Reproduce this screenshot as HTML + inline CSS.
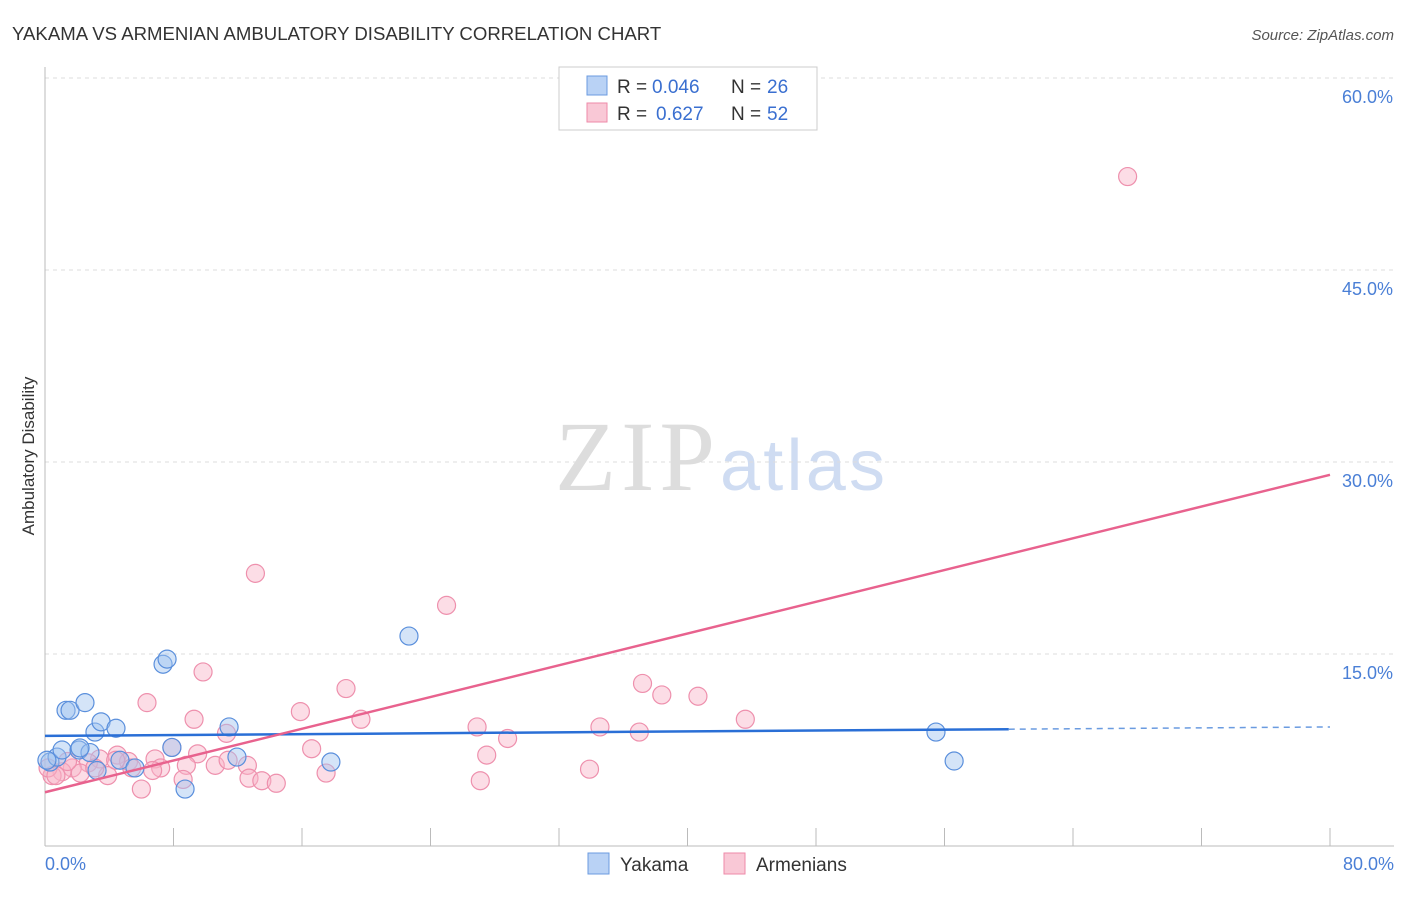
<!DOCTYPE html>
<html><head><meta charset="utf-8"><style>
body{margin:0;background:#fff;font-family:"Liberation Sans",sans-serif;}
</style></head><body>
<svg width="1406" height="892" xmlns="http://www.w3.org/2000/svg">
<text x="12" y="40" font-size="18.6" fill="#333">YAKAMA VS ARMENIAN AMBULATORY DISABILITY CORRELATION CHART</text>
<text x="1394" y="40" font-size="15" fill="#555" font-style="italic" text-anchor="end">Source: ZipAtlas.com</text>
<text x="34" y="456" font-size="17" fill="#333" text-anchor="middle" transform="rotate(-90 34 456)">Ambulatory Disability</text>
<text x="555" y="490" font-size="100" fill="#ddd" font-family="Liberation Serif" textLength="160">ZIP</text>
<text x="720" y="490" font-size="72" fill="#cfdcf2" textLength="165">atlas</text>
<g id="grid"></g><g id="axes"></g><g id="marks"></g>
<g>
<rect x="559" y="67" width="258" height="63" fill="#fff" stroke="#ccc"/>
<rect x="587" y="76" width="20" height="19" fill="#b9d2f5" stroke="#6b9be0"/>
<text y="93" font-size="19" fill="#333"><tspan x="617">R =</tspan><tspan x="652" fill="#3a6fd0">0.046</tspan><tspan x="731">N =</tspan><tspan x="767" fill="#3a6fd0">26</tspan></text>
<rect x="587" y="103" width="20" height="19" fill="#f9c8d6" stroke="#ee8aa8"/>
<text y="120" font-size="19" fill="#333"><tspan x="617">R =</tspan><tspan x="656" fill="#3a6fd0">0.627</tspan><tspan x="731">N =</tspan><tspan x="767" fill="#3a6fd0">52</tspan></text>
</g>
<g>
<rect x="588" y="853" width="21" height="21" fill="#b9d2f5" stroke="#6b9be0"/>
<text x="620" y="871" font-size="19" fill="#333">Yakama</text>
<rect x="724" y="853" width="21" height="21" fill="#f9c8d6" stroke="#ee8aa8"/>
<text x="756" y="871" font-size="19" fill="#333">Armenians</text>
</g>
</svg>
<script>
const yTicks=[15,30,45,60];
const yTickLabels=["15.0%","30.0%","45.0%","60.0%"];
const xTickLabels=["0.0%","80.0%"];
const yakamaX=[0.31,0.75,1.06,1.31,1.56,2.12,2.49,2.8,3.11,3.24,3.49,4.42,4.67,5.6,7.35,7.6,7.9,8.72,11.46,11.95,17.8,22.66,55.47,56.6,0.12,2.18];
const yakamaY=[6.56,6.95,7.5,10.6,10.6,7.5,11.2,7.3,8.9,5.9,9.7,9.2,6.7,6.1,14.2,14.6,7.7,4.45,9.3,6.95,6.56,16.4,8.9,6.64,6.7,7.66];
const armX=[67.4,13.1,25.0,9.84,6.35,18.74,15.9,9.28,19.67,37.2,38.4,40.65,43.6,34.55,37.0,26.9,28.8,27.5,16.6,11.3,9.5,6.85,4.5,3.4,2.7,1.7,1.06,0.44,0.19,2.2,3.9,5.2,7.2,8.8,10.6,12.6,12.7,13.5,14.4,17.5,8.6,6.0,27.1,33.9,0.68,3.1,5.4,7.9,11.4,1.4,4.4,6.7];
const armY=[52.3,21.3,18.8,13.6,11.2,12.3,10.5,9.9,9.9,12.7,11.8,11.7,9.9,9.3,8.9,9.3,8.4,7.1,7.6,8.8,7.2,6.8,7.1,6.8,6.5,6.1,5.8,5.5,6.1,5.7,5.5,6.6,6.1,6.3,6.3,6.3,5.3,5.1,4.9,5.7,5.2,4.45,5.1,6.0,5.5,6.1,6.1,7.7,6.7,6.6,6.7,5.9];
const yakamaTrend=[8.6,9.3];
const armTrend=[4.2,29.0];
const NS="http://www.w3.org/2000/svg";
const X=v=>45+v/80*1285, Y=v=>846-v/15*192;
function mk(t,a,p){const e=document.createElementNS(NS,t);for(const k in a)e.setAttribute(k,a[k]);p.appendChild(e);return e;}
const grid=document.getElementById('grid'),axes=document.getElementById('axes'),marks=document.getElementById('marks');
yTicks.forEach((t,i)=>{
 const l=mk('line',{x1:45,x2:1394,y1:Y(t),y2:Y(t),stroke:'#ddd','stroke-dasharray':'4,4'},grid);
 
 
 const tx=mk('text',{x:1393,y:Y(t)+25,'font-size':18,fill:'#4a7fd6','text-anchor':'end'},axes);
 tx.textContent=yTickLabels[i];
 
 
});
const ax=mk('line',{x1:45,x2:45,y1:67,y2:846,stroke:'#bbb'},axes);


const bx=mk('line',{x1:45,x2:1394,y1:846,y2:846,stroke:'#bbb'},axes);


for(let k=1;k<=10;k++){const t=mk('line',{x1:X(k*8),x2:X(k*8),y1:828,y2:846,stroke:'#bbb'},axes);
 
 }
[[0,'start',45],[80,'end',1394]].forEach((d,i)=>{const t=mk('text',{x:d[2],y:870,'font-size':18,fill:'#4a7fd6','text-anchor':d[1]},axes);t.textContent=xTickLabels[i];
 
 });
armX.forEach((x,i)=>{const c=mk('circle',{cx:X(x),cy:Y(armY[i]),r:9,fill:'rgba(248,180,200,0.45)',stroke:'#ee90ad','stroke-width':1.2},marks);
 
 });
yakamaX.forEach((x,i)=>{const c=mk('circle',{cx:X(x),cy:Y(yakamaY[i]),r:9,fill:'rgba(160,195,240,0.45)',stroke:'#5a8fdc','stroke-width':1.2},marks);
 
 });
const yAt=t=>yakamaTrend[0]+(yakamaTrend[1]-yakamaTrend[0])*t/80;
let l1=mk('line',{x1:X(0),y1:Y(yAt(0)),x2:X(60),y2:Y(yAt(60)),stroke:'#2a6fd6','stroke-width':2.5},marks);


let l2=mk('line',{x1:X(60),y1:Y(yAt(60)),x2:X(80),y2:Y(yAt(80)),stroke:'#6a9be0','stroke-width':1.5,'stroke-dasharray':'6,5'},marks);


let l3=mk('line',{x1:X(0),y1:Y(armTrend[0]),x2:X(80),y2:Y(armTrend[1]),stroke:'#e8628e','stroke-width':2.5},marks);


</script>
</body></html>
